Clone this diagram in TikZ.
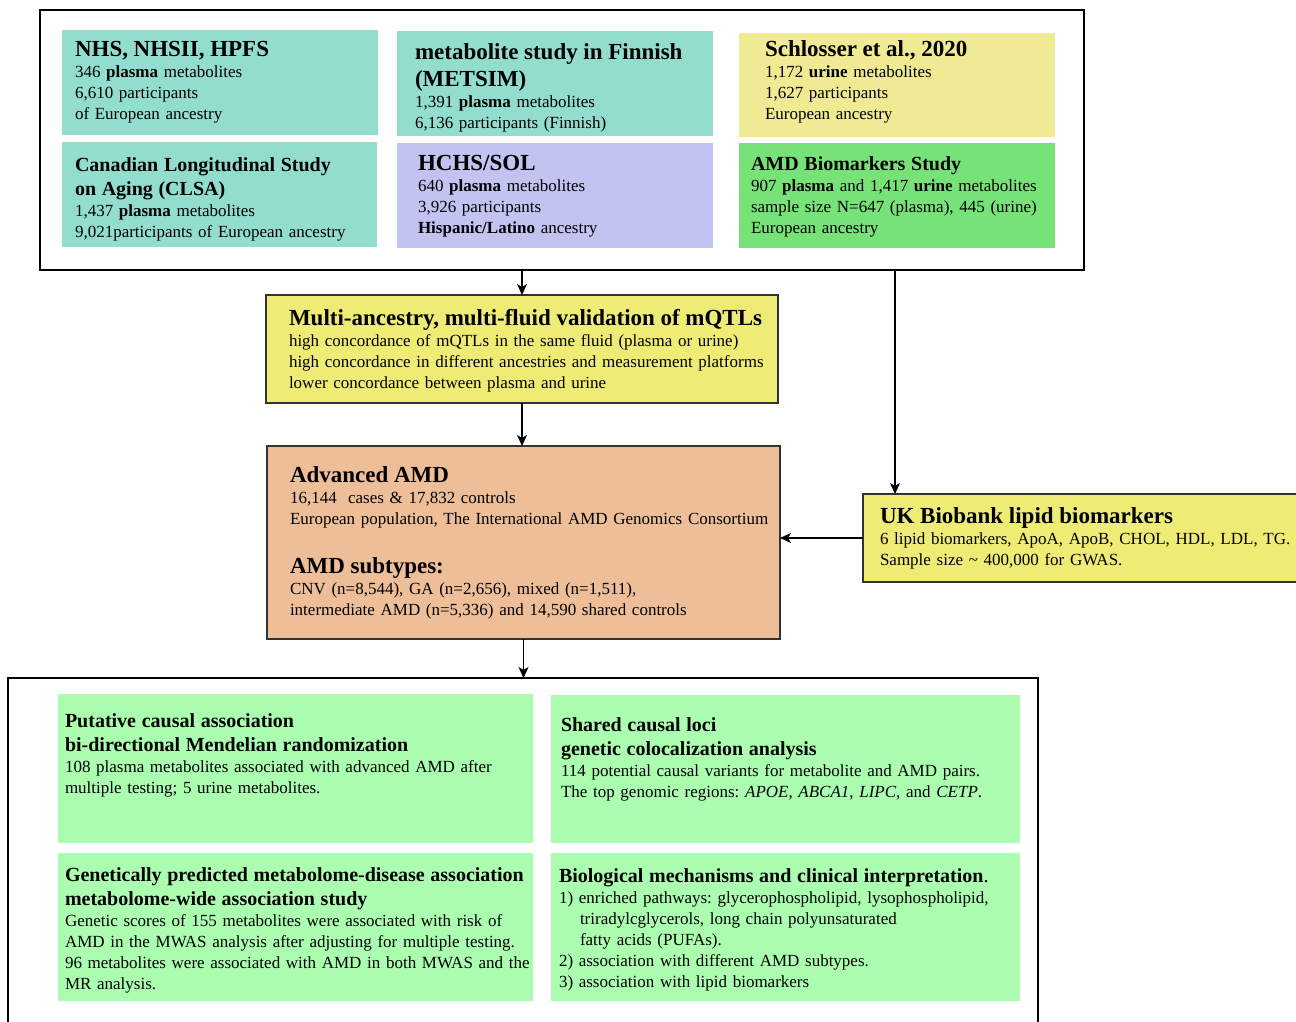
\documentclass[tikz,border=0pt]{standalone}
\usepackage{fontspec}
\setmainfont{Liberation Serif}
\usetikzlibrary{arrows.meta}
\setlength{\parindent}{0pt}
\setlength{\parskip}{0pt}
\frenchspacing
\definecolor{tealbox}{HTML}{93DDCF}
\definecolor{khakibox}{HTML}{EFEA93}
\definecolor{lavbox}{HTML}{C3C3F2}
\definecolor{greenbox}{HTML}{77E277}
\definecolor{yellowbox}{HTML}{EFEC75}
\definecolor{peachbox}{HTML}{EDBE98}
\definecolor{lightgreenbox}{HTML}{ABFDB0}
\definecolor{edgegray}{HTML}{333333}
\newcommand{\tA}{\fontsize{23}{27}\selectfont\bfseries}
\newcommand{\tB}{\fontsize{20}{24}\selectfont\bfseries}
\tikzset{
  bx/.style={anchor=north west, inner sep=0pt, outer sep=0pt},
  frame/.style={bx, draw=black, line width=1.1pt},
  keybox/.style={bx, draw=edgegray, line width=1.1pt},
  txt/.style={anchor=north west, inner sep=0pt, outer sep=0pt, align=left, font=\fontsize{17}{21}\selectfont\frenchspacing},
  arr/.style={-{Stealth[length=11pt,width=10pt,inset=3pt]}, line width=1.1pt}
}
\begin{document}
\begin{tikzpicture}[x=1pt,y=-1pt]
\useasboundingbox (0,0) rectangle (1296,1022);
\fill[white] (0,0) rectangle (1296,1022);

% top frame and study boxes
\node[frame, minimum width=1044pt, minimum height=260pt] (top) at (40,10) {};
\node[bx, fill=tealbox, minimum width=316pt, minimum height=105pt] (nhs) at (62,30) {};
\node[bx, fill=tealbox, minimum width=316pt, minimum height=105pt] (metsim) at (397,31) {};
\node[bx, fill=khakibox, minimum width=316pt, minimum height=104pt] (schl) at (739,33) {};
\node[bx, fill=tealbox, minimum width=315pt, minimum height=105pt] (clsa) at (62,142) {};
\node[bx, fill=lavbox, minimum width=316pt, minimum height=105pt] (hchs) at (397,143) {};
\node[bx, fill=greenbox, minimum width=316pt, minimum height=105pt] (amdb) at (739,143) {};

\node[txt, text width=300pt] (nhsT) at (75,41)
  {{\tA NHS, NHSII, HPFS\par}346 \textbf{plasma} metabolites\\6,610 participants\\of European ancestry};
\node[txt, text width=296pt] (metsimT) at (415,44)
  {{\tA metabolite study in Finnish\\(METSIM)\par}1,391 \textbf{plasma} metabolites\\6,136 participants (Finnish)};
\node[txt, text width=288pt] (schlT) at (765,41)
  {{\tA Schlosser et al., 2020\par}1,172 \textbf{urine} metabolites\\1,627 participants\\European ancestry};
\node[txt, text width=300pt] (clsaT) at (75,158)
  {{\tB Canadian Longitudinal Study\\on Aging (CLSA)\par}1,437 \textbf{plasma} metabolites\\9,021participants of European ancestry};
\node[txt, text width=292pt] (hchsT) at (418,155)
  {{\tA HCHS/SOL\par}640 \textbf{plasma} metabolites\\3,926 participants\\\textbf{Hispanic/Latino} ancestry};
\node[txt, text width=302pt] (amdbT) at (751,157)
  {{\tB AMD Biomarkers Study\par}907 \textbf{plasma} and 1,417 \textbf{urine} metabolites\\sample size N=647 (plasma), 445 (urine)\\European ancestry};

% mQTL validation
\node[keybox, fill=yellowbox, minimum width=512pt, minimum height=108pt] (mqtl) at (266,295) {};
\node[txt, text width=488pt] (mqtlT) at (289,309)
  {{\tA Multi-ancestry, multi-fluid validation of mQTLs\par}high concordance of mQTLs in the same fluid (plasma or urine)\\high concordance in different ancestries and measurement platforms\\lower concordance between plasma and urine};

% Advanced AMD
\node[keybox, fill=peachbox, minimum width=513pt, minimum height=193pt] (amd) at (267,446) {};
\node[txt, text width=488pt] (amdT) at (290,467)
  {{\tA Advanced AMD\par}16,144\ \ cases \& 17,832 controls\\European population, The International AMD Genomics Consortium};
\node[txt, text width=488pt] (subT) at (290,558)
  {{\tA AMD subtypes:\par}CNV (n=8,544), GA (n=2,656), mixed (n=1,511),\\intermediate AMD (n=5,336) and 14,590 shared controls};

% UK Biobank
\node[keybox, fill=yellowbox, minimum width=442pt, minimum height=88pt] (uk) at (863,494) {};
\coordinate (ukin) at (895,494);
\node[txt, text width=416pt] (ukT) at (880,508)
  {{\tA UK Biobank lipid biomarkers\par}\mbox{6 lipid biomarkers, ApoA, ApoB, CHOL, HDL, LDL, TG.}\\Sample size \textasciitilde{} 400,000 for GWAS.};

% bottom frame and result boxes
\node[frame, minimum width=1030pt, minimum height=370pt] (bottom) at (8,678) {};
\node[bx, fill=lightgreenbox, minimum width=475pt, minimum height=149pt] (mr) at (58,694) {};
\node[bx, fill=lightgreenbox, minimum width=469pt, minimum height=148pt] (coloc) at (551,695) {};
\node[bx, fill=lightgreenbox, minimum width=475pt, minimum height=148pt] (mwas) at (58,853) {};
\node[bx, fill=lightgreenbox, minimum width=469pt, minimum height=148pt] (bio) at (551,853) {};

\node[txt, text width=465pt] (mrT) at (65,714)
  {{\tB Putative causal association\\bi-directional Mendelian randomization\par}108 plasma metabolites associated with advanced AMD after\\multiple testing; 5 urine metabolites.};
\node[txt, text width=455pt] (colocT) at (561,718)
  {{\tB Shared causal loci\\genetic colocalization analysis\par}114 potential causal variants for metabolite and AMD pairs.\\The top genomic regions: \textit{APOE}, \textit{ABCA1}, \textit{LIPC}, and \textit{CETP}.};
\node[txt, text width=466pt] (mwasT) at (65,868)
  {{\tB Genetically predicted metabolome-disease association\\metabolome-wide association study\par}Genetic scores of 155 metabolites were associated with risk of\\AMD in the MWAS analysis after adjusting for multiple testing.\\96 metabolites were associated with AMD in both MWAS and the\\MR analysis.};
\node[txt, text width=458pt] (bioT) at (559,869)
  {{\tB Biological mechanisms and clinical interpretation\mdseries.\par}1) enriched pathways: glycerophospholipid, lysophospholipid,\\\hspace*{21pt}triradylcglycerols, long chain polyunsaturated\\\hspace*{21pt}fatty acids (PUFAs).\\2) association with different AMD subtypes.\\3) association with lipid biomarkers};

% connectors
\draw[arr] (mqtl.north |- top.south) -- (mqtl.north);
\draw[arr] (mqtl.south) -- (mqtl.south |- amd.north);
\draw[arr] (top.south -| ukin) -- (ukin);
\draw[arr] (uk.west) -- (amd.east |- uk.west);
\draw[arr] (amd.south) -- (amd.south |- bottom.north);
\end{tikzpicture}
\end{document}
